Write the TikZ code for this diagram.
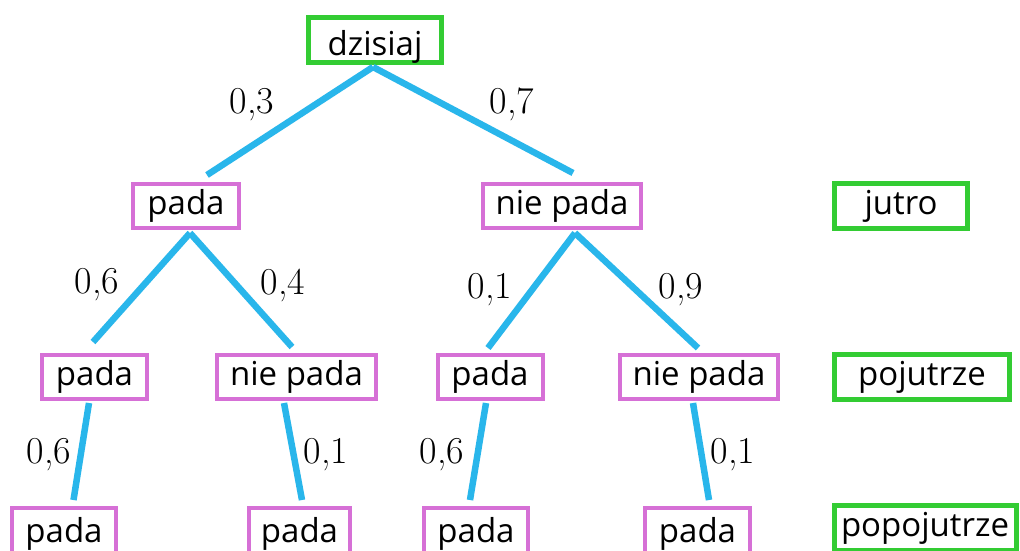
\documentclass[tikz,border=0pt]{standalone}
\usepackage{fontspec}
\newfontfamily\boxfont{Open Sans}
\definecolor{kgreen}{RGB}{51,204,51}
\definecolor{kmag}{RGB}{214,112,214}
\definecolor{kblue}{RGB}{41,182,235}
\begin{document}
\begin{tikzpicture}[x=1pt,y=-1pt,
  box/.style={draw, rectangle, inner sep=0pt, font=\boxfont\fontsize{33}{36}\selectfont,
     text height=22pt, text depth=6pt},
  mbox/.style={box, draw=kmag, line width=4pt},
  gbox/.style={box, draw=kgreen, line width=5pt},
  edge/.style={draw=kblue, line width=6.5pt},
  prob/.style={anchor=base, inner sep=0pt, font=\fontsize{38}{40}\selectfont}]
\useasboundingbox (0,0) rectangle (1020,550);
\clip (0,0) rectangle (1020,550);
\fill[white] (0,0) rectangle (1020,550);
% nodes
\node[gbox, minimum width=133pt, minimum height=45pt, text height=30pt, text depth=0pt] (dz) at (375,40) {dzisiaj};
\node[mbox, minimum width=106pt, minimum height=44pt] (p1) at (186,206) {pada};
\node[mbox, minimum width=158pt, minimum height=44pt] (n1) at (562,206) {nie pada};
\node[gbox, minimum width=133pt, minimum height=45pt] (jutro) at (901,206) {jutro};
\node[mbox, minimum width=105pt, minimum height=44pt] (p2a) at (94.5,377) {pada};
\node[mbox, minimum width=159pt, minimum height=44pt] (n2b) at (296.5,377) {nie pada};
\node[mbox, minimum width=105pt, minimum height=44pt] (p2c) at (490,377) {pada};
\node[mbox, minimum width=158pt, minimum height=44pt] (n2d) at (699,377) {nie pada};
\node[gbox, minimum width=175pt, minimum height=45pt] (poj) at (922,377) {pojutrze};
\node[mbox, minimum width=104pt, minimum height=52pt] (b1) at (64,534) {pada};
\node[mbox, minimum width=101pt, minimum height=52pt] (b2) at (299.5,534) {pada};
\node[mbox, minimum width=104pt, minimum height=52pt] (b3) at (476,534) {pada};
\node[mbox, minimum width=105pt, minimum height=52pt] (b4) at (697.5,534) {pada};
\node[gbox, minimum width=182pt, minimum height=45pt] (popoj) at (925,528) {popojutrze};
% edges
\draw[edge] ([shift={(-2,27)}]dz.center) -- ([shift={(21,-31)}]p1.center);
\draw[edge] ([shift={(-2,27)}]dz.center) -- ([shift={(11,-33)}]n1.center);
\draw[edge] ([shift={(4,27)}]p1.center) -- ([shift={(-1.5,-35)}]p2a.center);
\draw[edge] ([shift={(4,27)}]p1.center) -- ([shift={(-4.5,-30)}]n2b.center);
\draw[edge] ([shift={(13,27)}]n1.center) -- ([shift={(-2,-29)}]p2c.center);
\draw[edge] ([shift={(13,27)}]n1.center) -- ([shift={(-1,-29)}]n2d.center);
\draw[edge] ([shift={(-5.5,26)}]p2a.center) -- ([shift={(9.5,-34)}]b1.center);
\draw[edge] ([shift={(-12.5,26)}]n2b.center) -- ([shift={(2.5,-34)}]b2.center);
\draw[edge] ([shift={(-4,26)}]p2c.center) -- ([shift={(-6,-34)}]b3.center);
\draw[edge] ([shift={(-6,26)}]n2d.center) -- ([shift={(11.5,-34)}]b4.center);
% probabilities
\node[prob] (l1) at (252,113) {0,3};
\node[prob] (l2) at (512,113) {0,7};
\node[prob] (l3) at (97,293) {0,6};
\node[prob] (l4) at (283,294) {0,4};
\node[prob] (l5) at (490,298) {0,1};
\node[prob] (l6) at (681,298) {0,9};
\node[prob] (l7) at (49,463) {0,6};
\node[prob] (l8) at (326,463) {0,1};
\node[prob] (l9) at (442,463) {0,6};
\node[prob] (l10) at (733,463) {0,1};
\end{tikzpicture}
\end{document}
